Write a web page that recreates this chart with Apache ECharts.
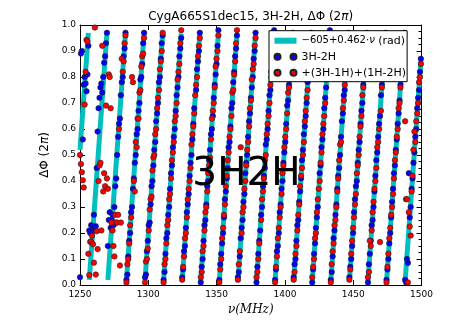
<!DOCTYPE html>
<html>
<head>
<meta charset="utf-8">
<script src="https://cdn.jsdelivr.net/npm/echarts@6/dist/echarts.min.js"></script>
<style>
  html, body { margin: 0; padding: 0; background: #fff; }
  #chart { width: 456px; height: 321px; }
</style>
</head>
<body>
<div id="chart"></div>
<script>
// Phase model fitted to the 3H-2H baseline: phi(nu) = intercept + slope * nu  [rad]
const FIT_INTERCEPT = -605.4;   // rad
const FIT_SLOPE = 0.4618;       // rad per MHz

const xTickValues = [1250, 1300, 1350, 1400, 1450, 1500];
const yTickValues = [0, 0.1, 0.2, 0.3, 0.4, 0.5, 0.6, 0.7, 0.8, 0.9, 1.0];

// Channel frequencies (MHz), 20 channels per row
const freqMHz = [
  1250.00,1250.68,1251.36,1252.04,1252.72,1253.40,1254.08,1254.76,1255.44,1256.12,1256.80,1257.48,1258.16,1258.84,1259.52,1260.20,1260.88,1261.56,1262.24,1262.92,
  1263.60,1264.28,1264.96,1265.64,1266.32,1267.00,1267.68,1268.36,1269.04,1269.72,1270.40,1271.08,1271.76,1272.44,1273.12,1273.80,1274.48,1275.16,1275.84,1276.52,
  1277.20,1277.88,1278.56,1279.24,1279.92,1280.60,1281.28,1281.96,1282.64,1283.32,1284.00,1284.68,1285.36,1286.04,1286.72,1287.40,1288.08,1288.76,1289.44,1290.12,
  1290.80,1291.48,1292.16,1292.84,1293.52,1294.20,1294.88,1295.56,1296.24,1296.92,1297.60,1298.28,1298.96,1299.64,1300.32,1301.00,1301.68,1302.36,1303.04,1303.72,
  1304.40,1305.08,1305.76,1306.44,1307.12,1307.80,1308.48,1309.16,1309.84,1310.52,1311.20,1311.88,1312.56,1313.24,1313.92,1314.60,1315.28,1315.96,1316.64,1317.32,
  1318.00,1318.68,1319.36,1320.04,1320.72,1321.40,1322.08,1322.76,1323.44,1324.12,1324.80,1325.48,1326.16,1326.84,1327.52,1328.20,1328.88,1329.56,1330.24,1330.92,
  1331.60,1332.28,1332.96,1333.64,1334.32,1335.00,1335.68,1336.36,1337.04,1337.72,1338.40,1339.08,1339.76,1340.44,1341.12,1341.80,1342.48,1343.16,1343.84,1344.52,
  1345.20,1345.88,1346.56,1347.24,1347.92,1348.60,1349.28,1349.96,1350.64,1351.32,1352.00,1352.68,1353.36,1354.04,1354.72,1355.40,1356.08,1356.76,1357.44,1358.12,
  1358.80,1359.48,1360.16,1360.84,1361.52,1362.20,1362.88,1363.56,1364.24,1364.92,1365.60,1366.28,1366.96,1367.64,1368.32,1369.00,1369.68,1370.36,1371.04,1371.72,
  1372.40,1373.08,1373.76,1374.44,1375.12,1375.80,1376.48,1377.16,1377.84,1378.52,1379.20,1379.88,1380.56,1381.24,1381.92,1382.60,1383.28,1383.96,1384.64,1385.32,
  1386.00,1386.68,1387.36,1388.04,1388.72,1389.40,1390.08,1390.76,1391.44,1392.12,1392.80,1393.48,1394.16,1394.84,1395.52,1396.20,1396.88,1397.56,1398.24,1398.92,
  1399.60,1400.28,1400.96,1401.64,1402.32,1403.00,1403.68,1404.36,1405.04,1405.72,1406.40,1407.08,1407.76,1408.44,1409.12,1409.80,1410.48,1411.16,1411.84,1412.52,
  1413.20,1413.88,1414.56,1415.24,1415.92,1416.60,1417.28,1417.96,1418.64,1419.32,1420.00,1420.68,1421.36,1422.04,1422.72,1423.40,1424.08,1424.76,1425.44,1426.12,
  1426.80,1427.48,1428.16,1428.84,1429.52,1430.20,1430.88,1431.56,1432.24,1432.92,1433.60,1434.28,1434.96,1435.64,1436.32,1437.00,1437.68,1438.36,1439.04,1439.72,
  1440.40,1441.08,1441.76,1442.44,1443.12,1443.80,1444.48,1445.16,1445.84,1446.52,1447.20,1447.88,1448.56,1449.24,1449.92,1450.60,1451.28,1451.96,1452.64,1453.32,
  1454.00,1454.68,1455.36,1456.04,1456.72,1457.40,1458.08,1458.76,1459.44,1460.12,1460.80,1461.48,1462.16,1462.84,1463.52,1464.20,1464.88,1465.56,1466.24,1466.92,
  1467.60,1468.28,1468.96,1469.64,1470.32,1471.00,1471.68,1472.36,1473.04,1473.72,1474.40,1475.08,1475.76,1476.44,1477.12,1477.80,1478.48,1479.16,1479.84,1480.52,
  1481.20,1481.88,1482.56,1483.24,1483.92,1484.60,1485.28,1485.96,1486.64,1487.32,1488.00,1488.68,1489.36,1490.04,1490.72,1491.40,1492.08,1492.76,1493.44,1494.12,
  1494.80,1495.48,1496.16,1496.84,1497.52,1498.20,1498.88,1499.56
];

// Measured 3H-2H phase per channel (turns); null = flagged channel
const phase3H2H = [
  0.03,0.89,0.90,0.56,0.77,0.80,0.775,0.745,0.81,0.92,0.21,0.20,0.23,0.21,0.226,0.27,0.21,0.226,0.45,0.59,
  0.68,0.72,0.76,0.775,0.74,0.80,0.855,0.88,0.93,0.97,0.15,0.25,0.28,0.22,0.25,0.27,0.23,0.30,0.38,0.41,
  0.50,0.57,0.62,0.64,0.73,0.78,0.80,0.88,0.91,0.97,0.02,0.04,0.11,0.17,0.20,0.28,0.30,0.37,0.41,0.47,
  0.50,0.58,0.60,0.67,0.70,0.79,0.80,0.85,0.93,0.97,0.03,0.04,0.13,0.17,0.23,0.24,0.31,0.38,0.40,0.46,
  0.52,0.55,0.63,0.66,0.70,0.78,0.80,0.87,0.93,0.96,0.02,0.05,0.12,0.18,0.20,0.27,0.30,0.37,0.43,0.46,
  0.53,0.57,0.60,0.67,0.73,0.76,0.80,0.88,0.91,0.95,0.03,0.06,0.13,0.15,0.22,0.28,0.31,0.35,0.42,0.47,
  0.50,0.56,0.62,0.68,null,0.75,0.83,0.86,0.90,0.97,0.01,0.07,0.10,0.17,0.23,0.25,0.31,0.38,0.40,0.48,
  0.52,0.58,0.60,0.65,0.72,0.77,0.81,0.85,0.92,0.98,0.02,0.08,0.12,0.16,0.20,0.26,0.33,0.36,0.41,0.45,
  0.53,0.55,0.61,0.68,0.70,0.78,0.82,0.88,0.91,0.96,0.03,0.05,0.11,0.18,0.22,0.25,0.32,0.35,0.43,0.47,
  0.50,0.57,0.63,0.66,0.72,0.76,0.80,0.87,0.90,0.97,0.01,0.07,0.12,0.17,0.21,0.27,0.30,0.38,0.42,0.45,
  0.54,0.56,0.60,0.67,0.73,0.75,0.82,0.86,0.93,0.98,0.02,0.06,0.13,0.15,0.20,0.28,0.31,0.37,0.40,0.47,
  0.51,0.55,0.62,0.69,0.71,0.77,0.81,0.85,0.91,0.96,0.03,0.08,0.10,0.17,0.23,0.25,0.32,0.36,0.41,0.48,
  0.52,0.58,0.61,0.65,0.70,0.78,0.80,0.87,0.92,0.97,0.01,0.06,0.12,0.16,0.22,0.26,0.30,null,0.43,0.46,
  0.53,0.56,0.60,0.68,0.72,0.76,0.83,0.88,0.90,0.98,0.02,0.05,0.11,0.18,0.21,0.27,0.31,0.37,0.42,0.45,
  0.50,0.57,0.63,0.66,0.73,0.75,0.81,0.86,0.93,0.96,0.03,0.07,0.10,0.15,0.20,0.28,0.33,0.38,0.40,0.47,
  0.52,0.55,0.62,0.67,0.70,0.77,0.82,0.85,0.91,0.97,0.01,0.08,0.12,0.17,0.23,0.25,0.30,0.36,0.42,0.48,
  0.51,0.57,0.62,0.65,0.73,0.77,0.81,0.87,0.92,0.96,0.02,0.06,0.10,0.16,0.20,0.26,0.32,0.37,0.43,0.46,
  0.52,0.56,0.62,0.66,0.71,0.77,0.80,0.87,0.92,0.96,0.02,0.01,0.10,0.085,0.43,0.26,0.30,0.37,0.41,0.47,
  0.51,0.57,0.60,0.68,0.72,0.75,0.82,0.87
];

// Closure phase (3H-1H)+(1H-2H) per channel (turns)
const phaseClosure = [
  0.50,0.465,0.434,0.403,0.375,0.694,0.82,0.943,0.937,0.12,0.038,0.166,0.166,0.189,0.157,0.086,0.99,0.04,0.207,0.138,
  0.40,0.46,0.47,0.21,0.92,0.36,0.43,0.38,0.69,0.41,0.37,0.81,0.80,0.68,0.24,0.21,0.15,0.11,0.27,0.24,
  0.24,0.27,0.60,0.075,0.24,0.87,0.82,0.86,0.93,0.96,0.01,0.08,0.10,0.16,0.23,0.26,0.80,0.78,0.40,0.36,
  0.55,0.53,0.64,0.64,0.74,0.75,0.84,0.88,0.89,0.95,0.01,0.09,0.10,0.14,0.21,0.29,0.33,0.34,0.44,0.49,
  0.50,0.58,0.60,0.68,0.72,0.75,0.83,0.86,0.90,0.97,0.01,0.08,0.10,0.16,0.23,0.25,0.33,0.35,0.41,0.48,
  0.51,0.55,0.63,0.65,0.70,0.79,0.82,0.85,0.93,0.98,0.02,0.07,0.11,0.18,0.20,0.26,0.33,0.37,0.40,0.45,
  0.54,0.58,0.61,0.66,0.73,0.77,0.80,0.88,0.92,0.95,0.03,0.05,0.13,0.15,0.21,0.28,0.30,0.36,0.43,0.46,
  0.49,0.56,0.64,0.67,0.70,0.76,0.84,0.87,0.90,0.96,0.01,0.06,0.10,0.18,0.22,0.27,0.31,0.38,0.42,0.48,
  0.51,0.57,0.60,0.65,0.74,0.75,0.81,0.86,0.93,0.98,0.02,0.08,0.13,0.53,0.20,0.28,0.30,0.37,0.40,0.46,
  0.52,0.55,0.61,0.68,0.71,0.79,0.83,0.85,0.92,0.95,0.03,0.05,0.10,0.16,null,0.25,0.33,0.36,0.41,0.48,
  0.50,0.58,0.62,0.65,0.70,0.77,0.80,0.88,0.91,0.96,0.01,0.07,0.11,0.18,0.22,0.26,0.30,0.35,0.43,0.46,
  0.53,0.57,0.60,0.66,0.74,0.76,0.83,0.87,0.90,0.97,0.02,0.05,0.12,0.15,0.21,0.27,0.31,0.38,0.42,0.45,
  0.50,0.55,0.63,0.67,0.72,0.75,0.82,0.86,0.93,0.95,0.03,0.07,0.10,0.18,0.20,0.28,0.33,0.37,0.40,0.47,
  0.51,0.58,0.62,0.65,0.70,0.79,0.81,0.85,0.91,0.96,0.01,0.08,0.13,0.16,0.23,0.25,0.30,0.36,0.41,0.48,
  0.54,0.55,null,0.68,0.71,0.77,0.80,0.88,0.92,0.97,0.02,0.06,0.12,0.17,0.22,0.26,0.31,0.35,0.43,0.46,
  0.50,0.57,0.61,0.65,0.73,0.76,0.83,0.87,0.90,0.95,0.03,0.05,0.17,0.15,0.21,0.28,0.32,0.37,0.40,0.45,
  0.53,0.55,0.60,0.165,0.67,0.76,0.82,0.85,0.90,0.97,0.01,0.07,0.12,0.18,0.22,0.27,0.30,0.35,0.41,0.48,
  0.51,0.57,0.60,0.68,0.70,0.76,0.83,0.86,0.90,0.97,0.63,0.33,0.33,0.01,0.28,0.225,0.19,0.36,0.42,0.52,
  0.59,0.55,0.63,0.66,0.70,0.78,0.80,0.85
];

const NAME_FIT = '\u2212605 + 0.462 \u00b7 \u03bd (rad)';
const NAME_3H2H = '3H-2H';
const NAME_CLOSURE = '+(3H-1H)+(1H-2H)';

// Pair channel frequencies with phases, skipping flagged channels
function pairs(phases) {
  const out = [];
  phases.forEach((p, i) => { if (p !== null) out.push([freqMHz[i], p]); });
  return out;
}

// Model line evaluated on the channel grid, wrapped into [0, 1) turns,
// with a break wherever the phase wraps round
const fitLine = [];
let prevTurn = null;
freqMHz.forEach(f => {
  const turns = (FIT_INTERCEPT + FIT_SLOPE * f) / (2 * Math.PI);
  const t = ((turns % 1) + 1) % 1;
  if (prevTurn !== null && t < prevTurn) fitLine.push([f, '-']);
  fitLine.push([f, t]);
  prevTurn = t;
});

const FONT = 'DejaVu Sans';
const TWO_DOTS = 'path://M0,3A3,3,0,1,1,6,3A3,3,0,1,1,0,3ZM16,3A3,3,0,1,1,22,3A3,3,0,1,1,16,3Z';

const chart = echarts.init(document.getElementById('chart'), null, { renderer: 'canvas' });

const baseAxisLine = { show: true, onZero: false, lineStyle: { color: '#000', width: 1 } };

chart.setOption({
  animation: false,
  backgroundColor: '#fff',
  grid: { left: 80, right: 34.5, top: 25, bottom: 31, containLabel: false },
  xAxis: [
    {
      type: 'value', position: 'bottom',
      min: xTickValues[0], max: xTickValues[xTickValues.length - 1], interval: 50,
      axisLine: baseAxisLine,
      axisTick: { show: true, inside: true, length: 5, lineStyle: { color: '#000' } },
      axisLabel: { color: '#000', fontSize: 9, fontFamily: FONT, margin: 5, formatter: v => String(v) },
      splitLine: { show: false },
      name: '\u03bd(MHz)', nameLocation: 'middle', nameGap: 19,
      nameTextStyle: { color: '#000', fontSize: 12, fontFamily: 'DejaVu Serif', fontStyle: 'italic' }
    },
    {
      type: 'value', position: 'top',
      min: xTickValues[0], max: xTickValues[xTickValues.length - 1], interval: 50,
      axisLine: baseAxisLine,
      axisTick: { show: true, inside: true, length: 5, lineStyle: { color: '#000' } },
      axisLabel: { show: false },
      splitLine: { show: false }
    }
  ],
  yAxis: [
    {
      type: 'value', position: 'left',
      min: yTickValues[0], max: yTickValues[yTickValues.length - 1], interval: 0.1,
      axisLine: baseAxisLine,
      axisTick: { show: true, inside: true, length: 5, lineStyle: { color: '#000' } },
      axisLabel: { color: '#000', fontSize: 9, fontFamily: FONT, margin: 4, formatter: v => v.toFixed(1) },
      splitLine: { show: false },
      name: '\u0394\u03a6 (2{p|\u03c0})', nameLocation: 'middle', nameGap: 22,
      nameTextStyle: {
        color: '#000', fontSize: 12, fontFamily: FONT,
        rich: { p: { fontSize: 12, fontFamily: FONT, fontStyle: 'italic', color: '#000' } }
      }
    },
    {
      type: 'value', position: 'right',
      min: yTickValues[0], max: yTickValues[yTickValues.length - 1], interval: 0.1,
      axisLine: baseAxisLine,
      axisTick: { show: true, inside: true, length: 5, lineStyle: { color: '#000' } },
      minorTick: { show: true, splitNumber: 4, length: 3, lineStyle: { color: '#000' } },
      axisLabel: { show: false },
      splitLine: { show: false },
      minorSplitLine: { show: false }
    }
  ],
  legend: {
    orient: 'vertical',
    left: 269, top: 30.7,
    padding: [3, 1, 2, 4.5],
    itemWidth: 22, itemHeight: 6, itemGap: 2,
    backgroundColor: '#fff', borderColor: '#000', borderWidth: 1, borderRadius: 0,
    selectedMode: false,
    z: 20,
    textStyle: {
      color: '#000', fontSize: 11, fontFamily: FONT, lineHeight: 14,
      rich: {
        m: { fontSize: 10, fontFamily: FONT, color: '#000', lineHeight: 14 },
        i: { fontSize: 10, fontFamily: FONT, fontStyle: 'italic', color: '#000', lineHeight: 14 },
        t: { fontSize: 11, fontFamily: FONT, color: '#000', lineHeight: 14 }
      }
    },
    formatter: name => name === NAME_FIT
      ? '{m|\u2212605+0.462\u00b7}{i|\u03bd}{t| (rad)}'
      : name,
    data: [
      { name: NAME_FIT, icon: 'rect' },
      { name: NAME_3H2H, icon: TWO_DOTS },
      { name: NAME_CLOSURE, icon: TWO_DOTS }
    ]
  },
  graphic: [
    {
      type: 'text', x: 250.7, y: 16.5, z: 100,
      style: {
        text: 'CygA665S1dec15, 3H-2H, \u0394\u03a6 (2{p|\u03c0})',
        fontSize: 12, fontFamily: FONT, fill: '#000',
        align: 'center', verticalAlign: 'middle',
        rich: { p: { fontSize: 12, fontFamily: FONT, fontStyle: 'italic', fill: '#000' } }
      }
    },
    {
      type: 'text', x: 246.5, y: 174.5, z: 100,
      style: {
        text: '3H2H', fontSize: 39, fontFamily: FONT, fill: '#000',
        align: 'center', verticalAlign: 'middle'
      }
    }
  ],
  series: [
    {
      name: NAME_FIT, type: 'line', data: fitLine,
      showSymbol: false, symbol: 'none', connectNulls: false, z: 1,
      lineStyle: { color: '#00bfbf', width: 5, cap: 'butt' },
      itemStyle: { color: '#00bfbf' }
    },
    {
      name: NAME_3H2H, type: 'scatter', data: pairs(phase3H2H), z: 2,
      symbol: 'circle', symbolSize: 5.5,
      itemStyle: { color: '#0000ff', borderColor: '#222', borderWidth: 0.6, opacity: 1 }
    },
    {
      name: NAME_CLOSURE, type: 'scatter', data: pairs(phaseClosure), z: 3,
      symbol: 'circle', symbolSize: 5.5,
      itemStyle: { color: '#ff0000', borderColor: '#222', borderWidth: 0.6, opacity: 1 }
    }
  ]
});
</script>
</body>
</html>
